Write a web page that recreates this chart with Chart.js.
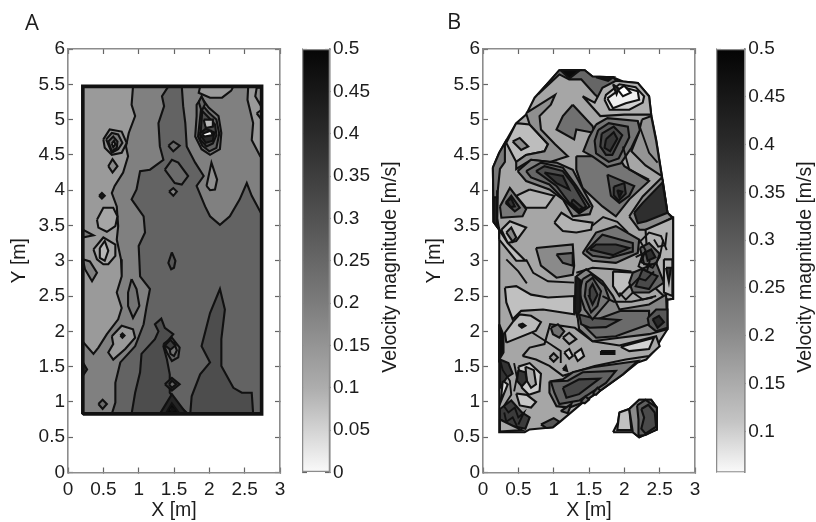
<!DOCTYPE html>
<html>
<head>
<meta charset="utf-8">
<script src="https://cdn.jsdelivr.net/npm/chart.js@4"></script>
<style>
  html, body { margin: 0; background: #fff; }
  canvas { position: absolute; top: 0; filter: blur(0.45px); }
</style>
</head>
<body>
<canvas id="panelA" width="290" height="522" style="left:0"></canvas>
<canvas id="barA" width="98" height="522" style="left:302px"></canvas>
<canvas id="panelB" width="290" height="522" style="left:415px"></canvas>
<canvas id="barB" width="100" height="522" style="left:716px"></canvas>
<script>
// ─── Axis ticks ───
const xTicks = [0, 0.5, 1, 1.5, 2, 2.5, 3];
const yTicks = [0, 0.5, 1, 1.5, 2, 2.5, 3, 3.5, 4, 4.5, 5, 5.5, 6];
const barTicksA = [0, 0.05, 0.1, 0.15, 0.2, 0.25, 0.3, 0.35, 0.4, 0.45, 0.5];
const barTicksB = [0.1, 0.15, 0.2, 0.25, 0.3, 0.35, 0.4, 0.45, 0.5];
const barRangeA = [0, 0.5];
const barRangeB = [0.057, 0.5];

// ─── Panel A contours: [velocity level, [x, y, x, y, ...]], painted in order ───
const contoursA = [
  [0.198, [0.21,0.83, 2.74,0.83, 2.74,5.47, 0.21,5.47]],
  [0.25, [0.92,5.47, 0.9,5.21, 0.95,5.05, 0.86,4.81, 0.82,4.62, 0.85,4.48, 0.78,4.25, 0.66,4.06, 0.62,3.96, 0.69,3.77, 0.71,3.49, 0.69,3.3, 0.75,3.02, 0.76,2.78, 0.69,2.55, 0.76,2.33, 0.71,2.17, 0.55,1.96, 0.43,1.77, 0.36,1.68, 0.22,1.84, 0.21,1.84, 0.21,0.83, 2.74,0.83, 2.74,5.47]],
  [0.2, [1.87,5.47, 1.85,5.38, 2.01,5.31, 2.18,5.31, 2.31,5.41, 2.34,5.47]],
  [0.2, [2.55,5.47, 2.54,5.28, 2.62,4.95, 2.6,4.71, 2.72,4.48, 2.74,4.48, 2.74,5.47]],
  [0.305, [1.42,5.47, 1.61,5.47, 1.63,5.19, 1.66,4.95, 1.68,4.62, 1.8,4.39, 1.92,4.2, 1.82,4.06, 1.94,3.77, 2.01,3.63, 2.15,3.51, 2.29,3.63, 2.43,3.87, 2.53,4.1, 2.6,3.92, 2.74,3.66, 2.74,0.83, 0.62,0.83, 0.67,0.99, 0.67,1.27, 0.74,1.56, 0.95,1.79, 1.07,2.1, 1.11,2.34, 1.16,2.6, 1.02,2.78, 1.01,3, 1,3.21, 1.09,3.4, 1.07,3.63, 0.9,3.87, 0.97,4.01, 1.02,4.27, 1.16,4.29, 1.35,4.43, 1.3,4.62, 1.28,4.95, 1.36,5.19, 1.33,5.33]],
  [0.35, [0.9,0.83, 0.95,1.13, 1.02,1.42, 1.04,1.68, 1.23,1.89, 1.28,2, 1.23,2.1, 1.32,2.18, 1.37,2.05, 1.49,1.96, 1.35,1.79, 1.4,1.6, 1.44,1.39, 1.44,1.13, 1.58,0.94, 1.7,0.83]],
  [0.35, [1.73,0.83, 1.75,1.08, 1.87,1.39, 2.01,1.56, 1.89,1.79, 2.01,2.26, 2.15,2.6, 2.22,2.31, 2.17,1.89, 2.17,1.51, 2.34,1.2, 2.46,1.13, 2.6,1.13, 2.62,0.83]],
  [0.22, [0.5,4.72, 0.59,4.86, 0.76,4.83, 0.83,4.67, 0.76,4.53, 0.62,4.5, 0.52,4.6]],
  [0.26, [0.54,4.72, 0.62,4.81, 0.71,4.79, 0.77,4.67, 0.71,4.58, 0.62,4.53]],
  [0.3, [0.57,4.69, 0.64,4.76, 0.7,4.69, 0.69,4.6, 0.62,4.55]],
  [0.12, [0.62,4.66, 0.65,4.7, 0.67,4.65, 0.64,4.61]],
  [0.27, [1.89,5.31, 1.99,5.17, 2.13,5.05, 2.17,4.81, 2.15,4.58, 2.01,4.5, 1.89,4.58, 1.8,4.76, 1.82,5.05, 1.82,5.21]],
  [0.31, [1.89,5.22, 1.99,5.1, 2.1,5, 2.14,4.8, 2.1,4.6, 2,4.55, 1.9,4.63, 1.84,4.76, 1.87,5.03]],
  [0.35, [1.9,5.12, 1.99,5.03, 2.08,4.93, 2.1,4.78, 2.05,4.66, 1.96,4.62, 1.87,4.72]],
  [0.42, [1.86,4.8, 1.95,4.87, 2.07,4.82, 2.05,4.7, 1.95,4.67]],
  [0.14, [1.92,5, 2.05,5, 2.05,4.9, 1.95,4.88]],
  [0.01, [1.9,4.8, 2.02,4.84, 2.05,4.78, 1.93,4.76]],
  [0.3, [1.85,5.25, 1.89,5.33, 1.94,5.22, 1.89,5.12]],
  [0.29, [1.42,4.63, 1.49,4.69, 1.58,4.63, 1.49,4.55]],
  [0.29, [1.37,4.29, 1.47,4.43, 1.56,4.39, 1.7,4.2, 1.61,4.08, 1.51,4.1]],
  [0.23, [0.57,4.34, 0.63,4.44, 0.7,4.34, 0.63,4.25]],
  [0.45, [0.44,3.92, 0.48,3.96, 0.52,3.92, 0.48,3.88]],
  [0.175, [0.41,3.58, 0.5,3.75, 0.64,3.75, 0.7,3.63, 0.67,3.49, 0.55,3.41, 0.43,3.47]],
  [0.175, [0.36,3.16, 0.5,3.33, 0.67,3.23, 0.67,3.07, 0.57,2.95, 0.5,2.95, 0.41,3.02]],
  [0.14, [0.45,3.18, 0.52,3.28, 0.57,3.14, 0.52,3, 0.45,3.04]],
  [0.26, [0.21,3.44, 0.36,3.36, 0.21,3.33]],
  [0.25, [0.21,3.02, 0.31,2.99, 0.41,2.83, 0.34,2.71, 0.24,2.88]],
  [0.27, [0.9,2.74, 0.97,2.6, 1.01,2.36, 0.92,2.19, 0.85,2.36, 0.85,2.55]],
  [0.2, [0.62,1.93, 0.76,2.08, 0.92,2.03, 0.95,1.91, 0.81,1.75, 0.64,1.6, 0.57,1.7, 0.64,1.82]],
  [0.45, [0.74,1.94, 0.77,1.97, 0.8,1.94, 0.77,1.91]],
  [0.33, [1.47,3.12, 1.52,3, 1.5,2.9, 1.46,2.88, 1.42,2.97]],
  [0.3, [1.35,1.82, 1.47,1.91, 1.58,1.77, 1.56,1.63, 1.47,1.58, 1.4,1.7]],
  [0.27, [1.43,1.8, 1.5,1.84, 1.54,1.73, 1.5,1.65, 1.45,1.68]],
  [0.38, [1.37,1.8, 1.45,1.88, 1.52,1.8, 1.45,1.74]],
  [0.38, [1.37,1.25, 1.47,1.34, 1.58,1.25, 1.47,1.16]],
  [0.3, [1.43,1.25, 1.47,1.3, 1.53,1.25, 1.47,1.2]],
  [0.43, [1.3,0.83, 1.47,1.11, 1.68,0.83]],
  [0.48, [1.38,0.83, 1.47,0.98, 1.58,0.83]],
  [0.1, [1.45,0.89, 1.47,0.91, 1.5,0.89, 1.47,0.87]],
  [0.29, [0.43,0.97, 0.49,1.03, 0.55,0.97, 0.49,0.9]],
  [0.4, [0.21,1.56, 0.27,1.46, 0.21,1.37]],
  [0.22, [1.96,4.06, 2.03,4.39, 2.11,4.15, 2.08,4.01, 2.01,4]],
  [0.25, [1.43,3.98, 1.49,4.03, 1.54,3.98, 1.49,3.92]],
  [0.23, [2.67,5.45, 2.65,5.33, 2.72,5.21, 2.74,5.33, 2.74,5.45]],
  [0.23, [2.67,5.09, 2.74,5.14, 2.74,5]],
];
const frameA = [0.21,0.83, 2.74,0.83, 2.74,5.47, 0.21,5.47];

// ─── Panel B contours ───
const contoursB = [
  [0.175, [0.14,4.32, 0.23,4.53, 0.31,4.67, 0.47,4.95, 0.61,5.07, 0.73,5.31, 0.94,5.54, 1.08,5.7, 1.44,5.7, 1.55,5.61, 1.84,5.6, 1.98,5.54, 2.19,5.52, 2.35,5.33, 2.38,5.07, 2.45,4.72, 2.54,4.15, 2.61,3.68, 2.69,3.61, 2.69,2.46, 2.61,2.45, 2.61,2.03, 2.52,1.89, 2.42,1.72, 2.31,1.6, 2.19,1.56, 1.98,1.39, 1.69,1.18, 1.41,0.99, 1.08,0.71, 0.99,0.64, 0.66,0.61, 0.59,0.57, 0.23,0.57, 0.23,3.44, 0.15,3.55]],
  [0.3, [0.78,5.36, 1.08,5.7, 1.44,5.7, 1.55,5.61, 1.84,5.6, 1.92,5.52, 1.79,5.43, 1.69,5.26, 1.58,5.36, 1.39,5.57, 1.22,5.57, 1.08,5.64]],
  [0.48, [1.1,5.7, 1.37,5.7, 1.22,5.58]],
  [0.46, [1.6,5.6, 1.84,5.6, 1.77,5.55]],
  [0.155, [1.41,5.33, 1.58,5.24, 1.69,5.45, 1.88,5.55, 2.19,5.52, 2.35,5.33, 2.38,5.07, 2,5.07, 1.66,5.05]],
  [0.092, [1.72,5.28, 1.74,5.35, 1.93,5.5, 2.16,5.46, 2.28,5.33, 2.26,5.24, 2.07,5.14, 1.79,5.14]],
  [0.03, [1.76,5.3, 1.98,5.46, 2.19,5.4, 2.21,5.28, 2.02,5.23, 1.84,5.16]],
  [0.0, [1.91,5.42, 2,5.48, 2.09,5.38, 1.98,5.33]],
  [0.42, [1.84,5.5, 1.92,5.44, 1.89,5.36, 1.86,5.44]],
  [0.13, [0.47,4.95, 0.66,4.93, 0.92,4.65, 0.87,4.55, 0.61,4.5, 0.47,4.4, 0.33,4.67]],
  [0.23, [0.42,4.69, 0.52,4.74, 0.64,4.62, 0.54,4.57]],
  [0.22, [0.61,5.09, 1.02,5.35, 0.96,5.21, 0.8,5.05, 0.82,4.86, 1.02,4.65, 1.2,4.48, 0.95,4.4, 0.68,4.43, 0.47,4.3, 0.47,4.4, 0.61,4.5, 0.87,4.55, 0.92,4.65, 0.66,4.93]],
  [0.28, [1.27,5.21, 1.55,4.91, 1.58,4.81, 1.32,4.86, 1.29,4.72, 1.04,4.86, 1.13,5.05]],
  [0.21, [2.25,5, 2.38,5.05, 2.45,4.7, 2.53,4.2, 2.3,4.35, 2.1,4.55, 2.2,4.8]],
  [0.27, [1.32,4.48, 1.6,4.48, 1.9,4.5, 2,4.34, 2.35,4.13, 2.07,3.87, 1.88,3.63, 1.69,3.77, 1.41,4.03, 1.32,4.29]],
  [0.27, [1.6,4.93, 1.76,5.02, 2.19,4.98, 2.22,4.85, 2.1,4.6, 1.95,4.38, 1.76,4.33, 1.55,4.48, 1.42,4.55, 1.5,4.75]],
  [0.32, [1.63,4.85, 1.78,4.95, 2.05,4.9, 2.07,4.75, 1.92,4.45, 1.78,4.4, 1.6,4.52, 1.58,4.7]],
  [0.36, [1.68,4.8, 1.85,4.9, 1.97,4.78, 1.83,4.5, 1.74,4.5, 1.66,4.62]],
  [0.39, [1.74,4.72, 1.85,4.82, 1.9,4.73, 1.8,4.55, 1.72,4.6]],
  [0.33, [1.76,4.22, 2.14,4.06, 2.07,3.92, 1.93,3.82, 1.81,3.92]],
  [0.38, [1.85,4.05, 2,4.1, 2.02,3.95, 1.92,3.85, 1.85,3.93]],
  [0.44, [1.9,4, 1.97,3.98, 1.93,3.9]],
  [0.23, [2.07,3.63, 2.26,3.91, 2.52,4.17, 2.54,4.15, 2.61,3.68, 2.68,3.61, 2.35,3.44, 2.21,3.44]],
  [0.41, [2.14,3.68, 2.26,3.82, 2.54,4.11, 2.61,3.68, 2.31,3.56, 2.19,3.53]],
  [0.25, [0.49,4.27, 0.68,4.43, 1.04,4.39, 1.27,4.29, 1.39,4.06, 1.55,3.77, 1.51,3.66, 1.27,3.63, 1.13,3.87, 0.94,4.01, 0.61,4.13]],
  [0.3, [0.61,4.27, 0.82,4.39, 1.13,4.32, 1.32,4.06, 1.51,3.77, 1.36,3.67, 1.18,3.83, 0.94,4.08, 0.68,4.18]],
  [0.35, [0.75,4.27, 0.87,4.34, 1.13,4.27, 1.29,4.06, 1.46,3.77, 1.36,3.7, 1.22,3.82, 1.04,4.06]],
  [0.39, [0.87,4.25, 1.13,4.2, 1.22,4.01, 1.04,4.1]],
  [0.39, [1.27,3.87, 1.41,3.75, 1.36,3.72, 1.25,3.82]],
  [0.265, [0.24,3.77, 0.38,4.03, 0.61,3.73, 0.56,3.63, 0.26,3.61]],
  [0.34, [0.32,3.82, 0.4,3.92, 0.52,3.75, 0.45,3.7]],
  [0.4, [0.34,3.84, 0.4,3.88, 0.45,3.77, 0.39,3.76]],
  [0.265, [0.14,4.32, 0.23,4.53, 0.31,4.67, 0.31,4.4, 0.24,4.3, 0.21,4, 0.2,3.6, 0.23,3.44, 0.15,3.55]],
  [0.44, [0.15,3.9, 0.2,3.9, 0.2,3.5, 0.23,3.44, 0.15,3.55]],
  [0.15, [0.66,4.01, 1.01,3.92, 0.89,3.75, 0.61,3.75, 0.47,3.92]],
  [0.15, [1.01,3.54, 1.11,3.68, 1.27,3.58, 1.55,3.54, 1.53,3.44, 1.32,3.4, 1.13,3.42]],
  [0.13, [0.26,3.44, 0.38,3.56, 0.61,3.47, 0.47,3.28, 0.35,3.25]],
  [0.24, [0.33,3.4, 0.4,3.47, 0.47,3.33, 0.42,3.27]],
  [0.13, [0.23,3.3, 0.47,3.0, 0.6,3, 0.35,3.25, 0.23,3.44]],
  [0.23, [0.75,3.18, 1.27,3.23, 1.29,2.93, 1.27,2.8, 1.04,2.76, 0.82,2.93]],
  [0.3, [1.04,3.09, 1.27,3.11, 1.27,2.93, 1.13,2.97]],
  [0.15, [2.3,3.44, 2.69,3.61, 2.69,2.46, 2.61,2.45, 2.35,2.7]],
  [0.27, [1.41,3.11, 1.6,3.4, 1.88,3.49, 2.21,3.3, 2.19,3.11, 1.88,2.97, 1.55,3]],
  [0.32, [1.46,3.14, 1.69,3.37, 2.12,3.25, 2.12,3.13, 1.79,3.04, 1.55,3.07]],
  [0.38, [1.51,3.16, 1.6,3.23, 1.88,3.23, 2.07,3.18, 1.84,3.08]],
  [0.3, [2.22,3.18, 2.35,3.25, 2.5,3.1, 2.45,2.95, 2.28,2.95]],
  [0.41, [2.3,3.12, 2.38,3.16, 2.44,3.05, 2.33,3]],
  [0.124, [0.31,2.62, 0.47,2.64, 0.68,2.52, 0.92,2.48, 1.29,2.5, 1.29,2.24, 0.85,2.31, 0.54,2.29, 0.42,2.17, 0.33,2.41]],
  [0.133, [0.33,1.84, 0.75,2.01, 0.82,2.13, 0.68,2.22, 0.52,2.24, 0.42,2.13, 0.31,1.98]],
  [0.45, [0.5,2.09, 0.56,2.11, 0.6,2.08, 0.55,2.05]],
  [0.17, [0.56,1.65, 0.66,1.77, 0.87,1.82, 0.95,2.1, 1.3,2.05, 1.55,1.86, 1.93,1.8, 2.45,1.93, 2.5,1.79, 2.35,1.65, 2.02,1.6, 1.58,1.51, 1.36,1.44, 1.13,1.37, 0.94,1.51, 0.75,1.6]],
  [0.09, [1.95,1.78, 2.42,1.91, 2.35,1.75, 2.07,1.72]],
  [0.48, [1.67,1.72, 1.86,1.72, 1.86,1.68, 1.67,1.68]],
  [0.265, [0.94,1.29, 1.13,1.32, 1.27,1.42, 1.55,1.49, 2.19,1.58, 1.98,1.39, 1.69,1.18, 1.41,0.99, 1.22,0.92, 1.04,0.94, 0.94,1.13]],
  [0.31, [0.96,1.29, 1.2,1.3, 1.41,1.42, 1.88,1.44, 1.74,1.27, 1.36,1.02, 1.08,0.97, 1.01,1.13]],
  [0.36, [1.13,1.2, 1.36,1.32, 1.65,1.33, 1.36,1.11, 1.18,1.06]],
  [0.24, [1.32,2.78, 1.46,2.88, 1.69,2.71, 1.84,2.5, 1.93,2.31, 2.35,2.38, 2.59,2.52, 2.61,2.03, 2.35,1.96, 1.93,1.91, 1.55,1.86, 1.36,2.03, 1.32,2.36]],
  [0.29, [1.41,2.1, 1.6,1.91, 1.88,1.93, 2.35,2.1, 2.35,2.29, 1.95,2.29, 1.7,2.2]],
  [0.33, [1.36,2.24, 1.55,2.19, 1.93,2.16, 1.74,2.06, 1.51,2.05, 1.39,2.1]],
  [0.27, [1.41,2.74, 1.53,2.81, 1.72,2.64, 1.79,2.45, 1.55,2.17, 1.44,2.31, 1.36,2.55]],
  [0.31, [1.46,2.69, 1.55,2.76, 1.67,2.57, 1.62,2.36, 1.53,2.27, 1.44,2.5]],
  [0.37, [1.51,2.6, 1.55,2.67, 1.62,2.52, 1.55,2.38, 1.5,2.5]],
  [0.45, [1.31,2.78, 1.38,2.72, 1.38,2.3, 1.33,2.22, 1.3,2.3]],
  [0.33, [2.33,2.19, 2.45,2.31, 2.61,2.31, 2.61,2.05, 2.45,2, 2.35,2.08]],
  [0.42, [2.4,2.17, 2.49,2.22, 2.56,2.13, 2.47,2.05]],
  [0.124, [1.84,2.85, 2.16,2.83, 2.12,2.69, 1.93,2.5, 1.84,2.64]],
  [0.3, [2.12,2.83, 2.45,2.97, 2.56,2.69, 2.35,2.55, 2.12,2.55, 2.07,2.69]],
  [0.355, [2.26,2.88, 2.47,2.78, 2.35,2.6, 2.16,2.64]],
  [0.133, [2.56,3.02, 2.68,3.02, 2.68,2.5, 2.56,2.55]],
  [0.4, [2.59,2.9, 2.66,2.9, 2.63,2.7]],
  [0.47, [0.23,2.1, 0.29,1.95, 0.29,1.7, 0.23,1.6]],
  [0.1, [0.5,1.5, 0.66,1.55, 0.82,1.4, 0.8,1.15, 0.65,1.1, 0.55,1.2]],
  [0.17, [0.6,1.5, 0.72,1.45, 0.75,1.25, 0.68,1.2, 0.62,1.3]],
  [0.4, [0.5,1.45, 0.6,1.42, 0.62,1.3, 0.55,1.22, 0.48,1.3]],
  [0.4, [0.24,1.6, 0.36,1.55, 0.42,1.4, 0.34,1.35, 0.24,1.2]],
  [0.067, [0.28,1.3, 0.35,1.25, 0.25,1]],
  [0.11, [0.47,1.12, 0.62,1.1, 0.75,1, 0.68,0.92, 0.52,0.95]],
  [0.385, [0.24,0.9, 0.4,1.02, 0.55,0.85, 0.66,0.78, 0.6,0.62, 0.42,0.66, 0.24,0.75]],
  [0.17, [0.24,0.75, 0.42,0.66, 0.55,0.6, 0.24,0.58]],
  [0.33, [0.82,0.68, 1,0.77, 1.08,0.72, 0.99,0.64, 0.9,0.63]],
  [0.28, [1.1,0.87, 1.25,0.97, 1.2,0.84]],
  [0.28, [1.38,1, 1.45,1.08, 1.5,1.03, 1.44,0.98]],
  [0.28, [1.55,1.12, 1.62,1.2, 1.66,1.16, 1.6,1.1]],
  [0.28, [0.96,2.05, 1.06,2.1, 1.15,2, 1.08,1.91, 0.99,1.96]],
  [0.167, [1.13,1.91, 1.22,1.98, 1.32,1.89, 1.22,1.82]],
  [0.2, [0.94,1.63, 1,1.69, 1.06,1.63, 1,1.57]],
  [0.1, [1.15,1.7, 1.22,1.75, 1.27,1.65, 1.22,1.61]],
  [0.1, [1.29,1.68, 1.39,1.75, 1.43,1.65, 1.34,1.58]],
  [0.43, [1.13,1.46, 1.17,1.51, 1.19,1.44]],
  [0.167, [1.84,0.57, 1.91,0.71, 1.93,0.85, 2.07,0.9, 2.21,1.03, 2.38,1.03, 2.46,0.92, 2.46,0.61, 2.35,0.57, 2.21,0.5, 2.12,0.57]],
  [0.124, [1.93,0.85, 2.07,0.9, 2.1,0.6, 1.9,0.6]],
  [0.23, [2.07,0.9, 2.21,1.03, 2.38,1.03, 2.46,0.92, 2.46,0.61, 2.21,0.5, 2.12,0.57]],
  [0.316, [2.18,0.95, 2.3,1.03, 2.46,0.92, 2.46,0.61, 2.3,0.53, 2.2,0.52, 2.2,0.75]],
  [0.355, [2.24,0.9, 2.34,0.96, 2.43,0.85, 2.45,0.65, 2.3,0.55, 2.24,0.62, 2.28,0.78]],
];
// open contour runs that only show as lines in panel B
const linesB = [
  [1.93,2.55, 2.02,2.45, 2.12,2.55, 2.26,2.45, 2.45,2.5],
  [2.21,3.3, 2.3,3.15, 2.24,2.98, 2.4,2.9, 2.5,3.05, 2.55,3.3],
  [2.2,3.25, 2.35,3.4, 2.52,3.35, 2.6,3.15],
  [2.07,2.62, 2.2,2.75, 2.3,2.72, 2.42,2.85],
  [2.16,3.05, 2.26,3.1, 2.2,2.92, 2.32,2.85, 2.36,3],
  [2.42,3.3, 2.48,3.2, 2.58,3.22, 2.6,3.4],
  [0.29,0.95, 0.36,0.85, 0.45,0.92, 0.5,0.78, 0.58,0.85, 0.5,0.68],
  [0.3,0.85, 0.33,0.72, 0.42,0.78, 0.48,0.66],
  [0.24,1.6, 0.28,1.45, 0.38,1.3, 0.4,1.1, 0.3,0.95],
  [0.44,1.55, 0.48,1.35, 0.44,1.15],
  [2.19,4.98, 2.35,4.53, 2.47,4.39],
  [1.98,4.62, 2.07,4.29, 2.35,4.15],
  [0.61,3.02, 0.71,2.83, 0.92,2.71, 1.29,2.69],
  [1.32,2.83, 1.55,2.9, 1.84,2.88, 2.1,2.85],
  [0.33,3.02, 0.5,2.85, 0.62,2.68],
  [1.69,2.5, 1.85,2.42, 2.1,2.42, 2.4,2.48],
  [0.7,1.98, 0.95,1.82, 1.1,1.72, 1.1,1.55],
  [1.55,3.5, 1.7,3.62, 1.9,3.55, 2.05,3.4],
];

// ─── Helpers ───
const shade = level => {
  const g = Math.round(255 * (1 - level / 0.5));
  return `rgb(${g},${g},${g})`;
};

function toPoints(flat, closed) {
  const pts = [];
  for (let i = 0; i < flat.length; i += 2) pts.push({ x: flat[i], y: flat[i + 1] });
  if (closed) pts.push(pts[0]);
  return pts;
}

const fixedTicks = values => scale => { scale.ticks = values.map(value => ({ value })); };
// pin the axis thickness and drop the label overhang so the plot box stays put
const fixedSize = (prop, size) => scale => {
  scale[prop] = size;
  scale.paddingLeft = scale.paddingRight = scale.paddingTop = scale.paddingBottom = 0;
};

const TICK_FONT = { family: "'Liberation Sans', Arial, sans-serif", size: 19 };
const LABEL_FONT = { family: "'Liberation Sans', Arial, sans-serif", size: 19.5 };
const INK = '#1c1c1c';
const BOX = '#8c8c8c';

function tickGrid() {
  return { drawOnChartArea: false, tickLength: -5, tickWidth: 1.2, color: '#666' };
}

function axis(position, range, values, size, showLabels, title, titlePad) {
  const horizontal = position === 'top' || position === 'bottom';
  return {
    type: 'linear',
    position,
    min: range[0],
    max: range[1],
    grid: tickGrid(),
    border: { color: BOX, width: 1.6 },
    afterBuildTicks: fixedTicks(values),
    afterFit: fixedSize(horizontal ? 'height' : 'width', size),
    ticks: {
      display: showLabels,
      autoSkip: false,
      maxRotation: 0,
      padding: horizontal ? 11 : 8,
      color: INK,
      font: TICK_FONT,
      callback: v => String(v),
    },
    title: title ? { display: true, text: title, color: INK, font: LABEL_FONT, padding: { top: titlePad, bottom: 0 } } : { display: false },
  };
}

const letterPlugin = (text, x, y) => ({
  id: 'panelLetter',
  afterDraw(chart) {
    const c = chart.ctx;
    c.save();
    c.fillStyle = INK;
    c.font = "22px 'Open Sans', sans-serif";
    c.textBaseline = 'alphabetic';
    c.fillText(text, x, y);
    c.restore();
  },
});

const barLabelPlugin = x => ({
  id: 'barLabel',
  afterDraw(chart) {
    const c = chart.ctx;
    c.save();
    c.translate(x, 267);
    c.rotate(-Math.PI / 2);
    c.textAlign = 'center';
    c.textBaseline = 'middle';
    c.fillStyle = INK;
    c.font = "19.5px 'Liberation Sans', Arial, sans-serif";
    c.fillText('Velocity magnitude [m/s]', 0, 0);
    c.restore();
  },
});

// ─── Contour panel ───
function createPanel(id, contours, lines, frame, letter) {
  const total = contours.length + lines.length + 1;
  const base = { showLine: true, pointRadius: 0, tension: 0, clip: false, borderColor: '#111' };
  const datasets = contours.map(([level, flat], i) => ({
    ...base,
    data: toPoints(flat, true),
    fill: 'shape',
    backgroundColor: shade(level),
    borderWidth: 2.1,
    order: total - i,
  }));
  lines.forEach((flat, i) => datasets.push({
    ...base, data: toPoints(flat, false), fill: false, borderWidth: 1.9, order: lines.length - i + 1,
  }));
  if (frame) datasets.push({ ...base, data: toPoints(frame, true), fill: false, borderWidth: 3.6, order: 0 });

  return new Chart(document.getElementById(id), {
    type: 'scatter',
    data: { datasets },
    options: {
      responsive: false,
      animation: false,
      layout: { padding: 0 },
      plugins: { legend: { display: false }, tooltip: { enabled: false } },
      scales: {
        x: axis('bottom', [0, 3], xTicks, 49.5, true, 'X [m]', 0),
        x2: axis('top', [0, 3], xTicks, 49, false),
        y: axis('left', [0, 6], yTicks, 68, true, 'Y [m]', 8),
        y2: axis('right', [0, 6], yTicks, 10, false),
      },
    },
    plugins: [letter],
  });
}

// ─── Colorbar ───
const barStopsA = [[0, '#060606'], [0.2, '#2a2a2a'], [0.4, '#525252'], [0.6, '#7c7c7c'], [0.8, '#adadad'], [1, '#fafafa']];
const barStopsB = [[0, '#040404'], [0.22, '#2a2a2a'], [0.45, '#5a5a5a'], [0.67, '#8a8a8a'], [0.88, '#c4c4c4'], [1, '#fafafa']];

function createBar(id, range, values, stops, labelX, axisWidth) {
  return new Chart(document.getElementById(id), {
    type: 'bar',
    data: {
      labels: ['velocity'],
      datasets: [{
        data: [range],
        barPercentage: 1,
        categoryPercentage: 1,
        borderColor: BOX,
        borderWidth: 1.6,
        borderSkipped: false,
        backgroundColor: ctx => {
          const area = ctx.chart.chartArea;
          if (!area) return '#888';
          const g = ctx.chart.ctx.createLinearGradient(0, area.top, 0, area.bottom);
          stops.forEach(([at, color]) => g.addColorStop(at, color));
          return g;
        },
      }],
    },
    options: {
      responsive: false,
      animation: false,
      layout: { padding: { top: 49, bottom: 49.5 } },
      plugins: { legend: { display: false }, tooltip: { enabled: false } },
      scales: {
        x: { display: false },
        y: axis('right', range, values, axisWidth, true),
        y2: axis('left', range, values, 0, false),
      },
    },
    plugins: [barLabelPlugin(labelX)],
  });
}

createPanel('panelA', contoursA, [], frameA, letterPlugin('A', 25, 30));
createBar('barA', barRangeA, barTicksA, barStopsA, 89, 70);
createPanel('panelB', contoursB, linesB, null, letterPlugin('B', 32, 29));
createBar('barB', barRangeB, barTicksB, barStopsB, 90, 70.7);
</script>
</body>
</html>
